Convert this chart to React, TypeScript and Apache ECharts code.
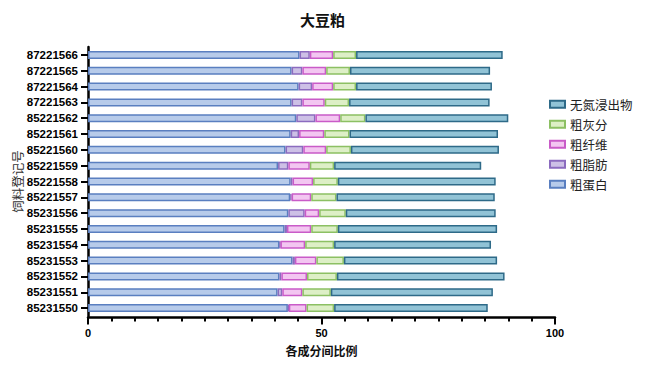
import React, { useEffect, useRef } from "react";
import * as echarts from "echarts";

const categories = ['85231550','85231551','85231552','85231553','85231554','85231555','85231556','85221557','85221558','85221559','85221560','85221561','85221562','87221563','87221564','87221565','87221566'];
const protein = [42.8,40.6,41.0,43.8,41.0,42.1,42.9,43.3,43.4,40.7,42.3,43.4,44.6,43.6,45.1,43.6,45.3];
const fat = [0.2,1.0,0.4,0.5,0.2,0.5,3.5,0.3,0.4,2.2,3.8,1.8,4.1,2.3,2.9,2.3,2.2];
const fiber = [3.8,4.3,5.5,4.6,5.3,5.2,3.1,4.2,4.4,4.6,4.9,5.4,5.3,4.8,4.5,5.1,5.0];
const ash = [5.9,6.1,6.4,5.9,6.2,5.7,5.7,5.4,5.3,5.2,5.3,5.4,5.4,5.2,4.9,5.1,4.9];
const nfe = [32.9,34.7,35.9,32.8,33.6,34.1,32.1,33.9,33.8,31.5,31.7,31.8,30.6,30.1,29.1,30.0,31.4];

const seriesNames = ['粗蛋白','粗脂肪','粗纤维','粗灰分','无氮浸出物'];
const seriesData = [protein, fat, fiber, ash, nfe];
const fills = ['#b7cbea','#cdc0e6','#f3c6f1','#ddefc6','#91c3d6'];
const borders = ['#5a7fc0','#8b6bbf','#c95bc8','#8cc063','#2e6a88'];

export default function App() {
  const ref = useRef<HTMLDivElement>(null);
  useEffect(() => {
    const chart = echarts.init(ref.current!, undefined, { renderer: "svg" });
    chart.setOption({
      animation: false,
      backgroundColor: '#ffffff',
      title: {
        text: '大豆粕',
        left: 'center',
        top: 7,
        textStyle: { fontSize: 15, fontWeight: 'bold', color: '#111', fontFamily: 'Noto Sans CJK SC' },
      },
      legend: {
        orient: 'vertical',
        left: 544,
        top: 93,
        itemGap: 7.5,
        itemWidth: 15,
        itemHeight: 7,
        icon: 'rect',
        data: ['无氮浸出物','粗灰分','粗纤维','粗脂肪','粗蛋白'],
        textStyle: { fontSize: 12.5, color: '#222', fontFamily: 'Noto Sans CJK SC' },
      },
      grid: { left: 88, right: 90, top: 47, bottom: 55, containLabel: false, outerBoundsMode: 'none' },
      xAxis: {
        type: 'value',
        min: 0,
        max: 100,
        interval: 50,
        offset: 1.5,
        name: '各成分间比例',
        nameLocation: 'middle',
        nameGap: 27,
        nameMoveOverlap: false,
        nameTextStyle: { fontSize: 12, fontWeight: 'bold', color: '#111', fontFamily: 'Noto Sans CJK SC' },
        axisLine: { show: true, lineStyle: { color: '#000', width: 2.5 } },
        axisTick: { show: true, length: 7, lineStyle: { color: '#000', width: 2 } },
        minorTick: { show: true, splitNumber: 10, length: 4, lineStyle: { color: '#000', width: 2 } },
        axisLabel: { fontSize: 11, fontWeight: 'bold', color: '#000', fontFamily: 'Liberation Sans', margin: 10 },
        splitLine: { show: false },
      },
      yAxis: {
        type: 'category',
        data: categories,
        name: '饲料登记号',
        nameLocation: 'middle',
        nameGap: 64,
        nameRotate: 90,
        nameMoveOverlap: false,
        nameTextStyle: { fontSize: 12.5, color: '#333', fontFamily: 'Noto Sans CJK SC' },
        axisLine: { show: true, lineStyle: { color: '#000', width: 2.5 } },
        axisTick: { show: true, alignWithLabel: true, length: 7, lineStyle: { color: '#000', width: 2 } },
        axisLabel: { fontSize: 11.5, fontWeight: 'bold', color: '#000', fontFamily: 'Liberation Sans', margin: 10 },
      },
      series: seriesNames.map((name, i) => ({
        name,
        type: 'bar',
        stack: 'total',
        data: seriesData[i],
        barWidth: 8,
        itemStyle: { color: fills[i], borderColor: borders[i], borderWidth: 1.5 },
      })),
    });
    return () => chart.dispose();
  }, []);
  return <div ref={ref} style={{ position: 'fixed', left: 0, top: 0, width: 645, height: 371 }} />;
}
